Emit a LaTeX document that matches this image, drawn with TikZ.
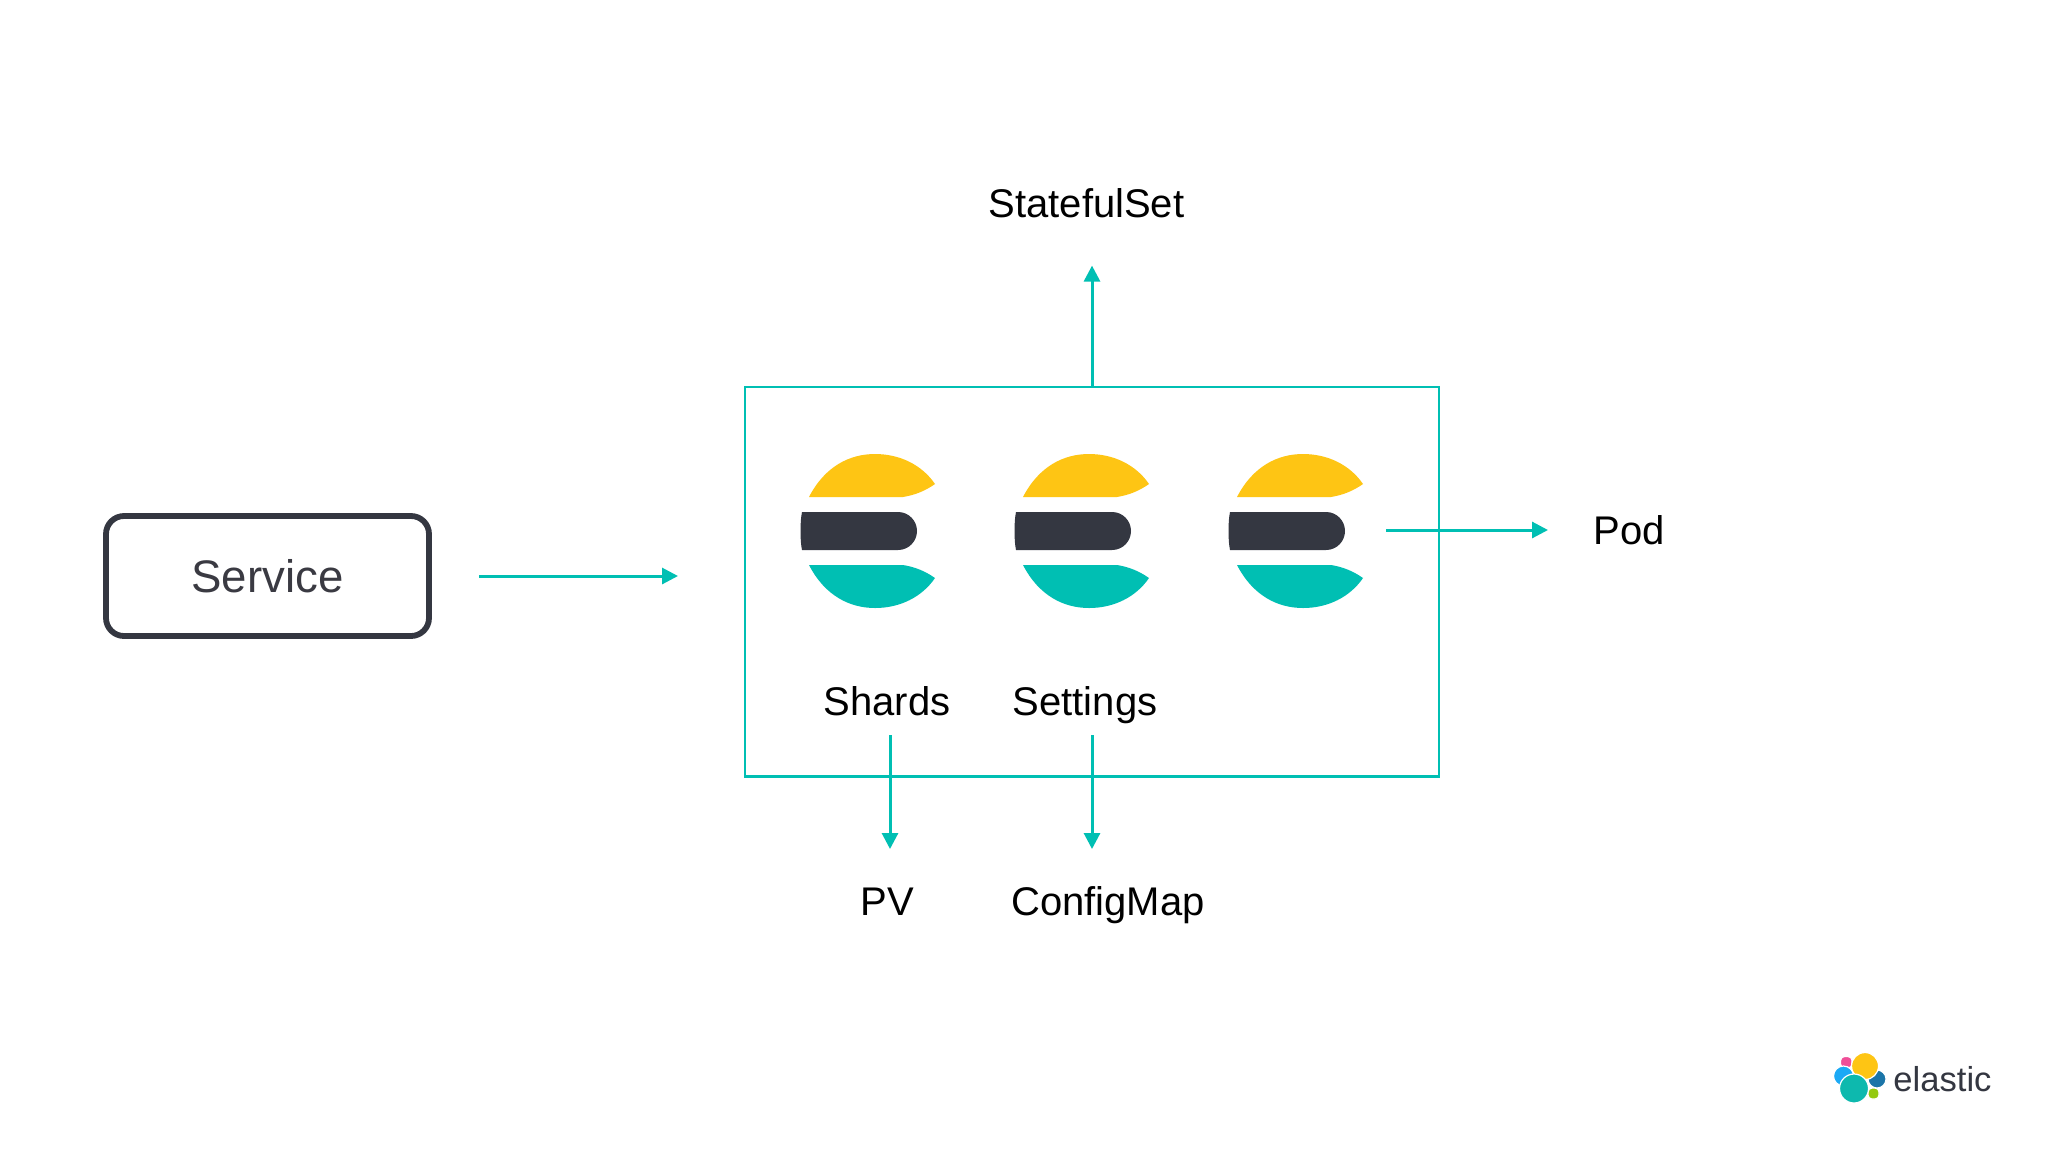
\documentclass[tikz,border=0pt]{standalone}
\usepackage{fontspec}
\setmainfont{Liberation Sans}
\usetikzlibrary{arrows.meta}
\definecolor{teal}{HTML}{00BFB3}
\definecolor{gold}{HTML}{FEC514}
\definecolor{ink}{HTML}{343741}
\definecolor{labelc}{HTML}{3A3A42}
\definecolor{lpink}{HTML}{F04E98}
\definecolor{lgreen}{HTML}{93C90E}
\definecolor{lblue}{HTML}{1BA9F5}
\definecolor{dblue}{HTML}{1B75A8}
\tikzset{
 flow/.style={draw=teal,line width=1.5pt,-{Triangle[length=8pt,width=8pt]}},
 lab/.style={font=\fontsize{20}{24}\selectfont,text=black,inner sep=0pt,anchor=base},
 blob/.style={draw=white,line width=0.6pt},
}
\begin{document}
\begin{tikzpicture}[x=0.5pt,y=-0.5pt]
\useasboundingbox (0,0) rectangle (2048,1152);
\fill[white] (0,0) rectangle (2048,1152);
\node[lab] (ss) at (1086.5,217.5) {StatefulSet};
\node[lab] (pod) at (1629,544.5) {Pod};
\node[lab] (shards) at (887,715.5) {Shards};
\node[lab] (settings) at (1085,715.5) {Settings};
\node[lab] (pv) at (887,915.5) {PV};
\node[lab] (cm) at (1108,915.5) {ConfigMap};
\node[draw=ink,line width=2.9pt,rounded corners=9pt,minimum width=161.5pt,minimum height=60pt,inner sep=0pt,text=labelc] (svc) at (267.5,576) {\raisebox{-0.6pt}{\fontsize{22.8}{26}\selectfont Service}};
\node[draw=teal,line width=1.4pt,minimum width=347pt,minimum height=194.6pt,inner sep=0pt] (pods) at (1092,581.6) {};
\coordinate (a1) at (479,576); \coordinate (a2) at (678,576);
\draw[flow] (a1) -- (a2);
\draw[flow] (pods.north) -- ++(0,-120);
\coordinate (p1) at (1386,530); \coordinate (p2) at (1548,530);
\draw[flow] (p1) -- (p2);
\coordinate (s1) at (890,735); \coordinate (s2) at (890,849);
\draw[flow] (s1) -- (s2);
\coordinate (c1) at (1092,735); \coordinate (c2) at (1092,849);
\draw[flow] (c1) -- (c2);
\foreach \cx in {875,1089,1303}{
 \begin{scope}[shift={(\cx,531)}]
  \fill[gold] (-66,-34) .. controls (-50,-65) and (-25,-77) .. (0,-77) .. controls (25,-77) and (47,-66) .. (60,-47) .. controls (50,-40) and (40,-36) .. (28,-34) -- cycle;
  \fill[teal] (-66,34) .. controls (-50,65) and (-25,77) .. (0,77) .. controls (25,77) and (47,66) .. (60,47) .. controls (50,40) and (40,36) .. (28,34) -- cycle;
  \fill[ink] (-73,-19) -- (23,-19) .. controls (34,-19) and (42,-10) .. (42,0) .. controls (42,10) and (34,19) .. (23,19) -- (-73,19) .. controls (-75,10) and (-75,-10) .. (-73,-19) -- cycle;
 \end{scope}}
% logo
\draw[blob,fill=lpink,rounded corners=2pt] (1840.5,1056.5) rectangle (1852,1068);
\draw[blob,fill=lgreen,rounded corners=2pt] (1868,1088) rectangle (1879,1099);
\draw[blob,fill=lblue] (1843.5,1076) circle[radius=10];
\draw[blob,fill=dblue] (1877,1079) circle[radius=9];
\draw[blob,fill=gold] (1865,1066) circle[radius=13.5];
\draw[blob,fill=teal!90!gray] (1854,1088.5) circle[radius=14.5];
\node[font=\fontsize{17.3}{20}\selectfont,text=ink,inner sep=0pt,anchor=base west] (logo) at (1893,1091) {elastic};
\end{tikzpicture}
\end{document}
